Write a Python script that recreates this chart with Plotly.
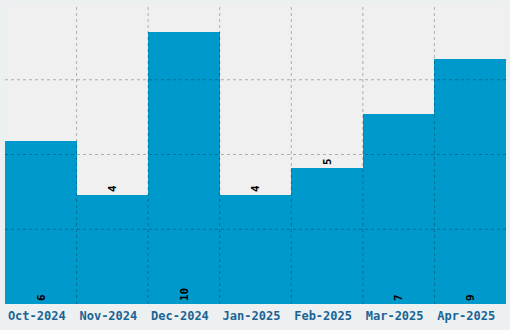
import plotly.graph_objects as go

months = ["Oct-2024", "Nov-2024", "Dec-2024", "Jan-2025", "Feb-2025", "Mar-2025", "Apr-2025"]
values = [6, 4, 10, 4, 5, 7, 9]
label_pos = ["inside", "outside", "inside", "outside", "outside", "inside", "inside"]

y_max = 11
y_step = 2.75

fig = go.Figure()
fig.add_trace(go.Bar(
    x=months, y=values,
    marker=dict(color="#0099cc", line=dict(width=0)),
    text=[str(v) for v in values],
    textposition=label_pos,
    insidetextanchor="start",
    textangle=-90,
    textfont=dict(family="DejaVu Sans Mono", size=11, color="#000000", weight="bold"),
    cliponaxis=False,
    constraintext="none",
))

grid = dict(color="rgba(0,0,0,0.28)", width=1, dash="dot")
shapes = []
for i in range(len(months) - 1):
    shapes.append(dict(type="line", xref="x", yref="paper", x0=i + 0.5, x1=i + 0.5,
                       y0=0, y1=1, line=grid, layer="above"))
k = 1
while k * y_step < y_max - 1e-9:
    shapes.append(dict(type="line", xref="paper", yref="y", x0=0, x1=1,
                       y0=k * y_step, y1=k * y_step, line=grid, layer="above"))
    k += 1

fig.update_layout(
    width=510, height=330,
    margin=dict(l=5, r=4, t=5, b=26),
    paper_bgcolor="#ecf0f1",
    plot_bgcolor="#f0f0f0",
    bargap=0,
    showlegend=False,
    shapes=shapes,
    xaxis=dict(type="category", showgrid=False, zeroline=False, showline=False,
               ticks="", ticklabelshift=-4, ticklabelstandoff=3,
               tickfont=dict(family="DejaVu Sans Mono", size=12, color="#1a6496",
                             weight="bold")),
    yaxis=dict(range=[0, y_max], showgrid=False, zeroline=False, showline=False,
               showticklabels=False, ticks=""),
)

fig.write_html("out.html")
